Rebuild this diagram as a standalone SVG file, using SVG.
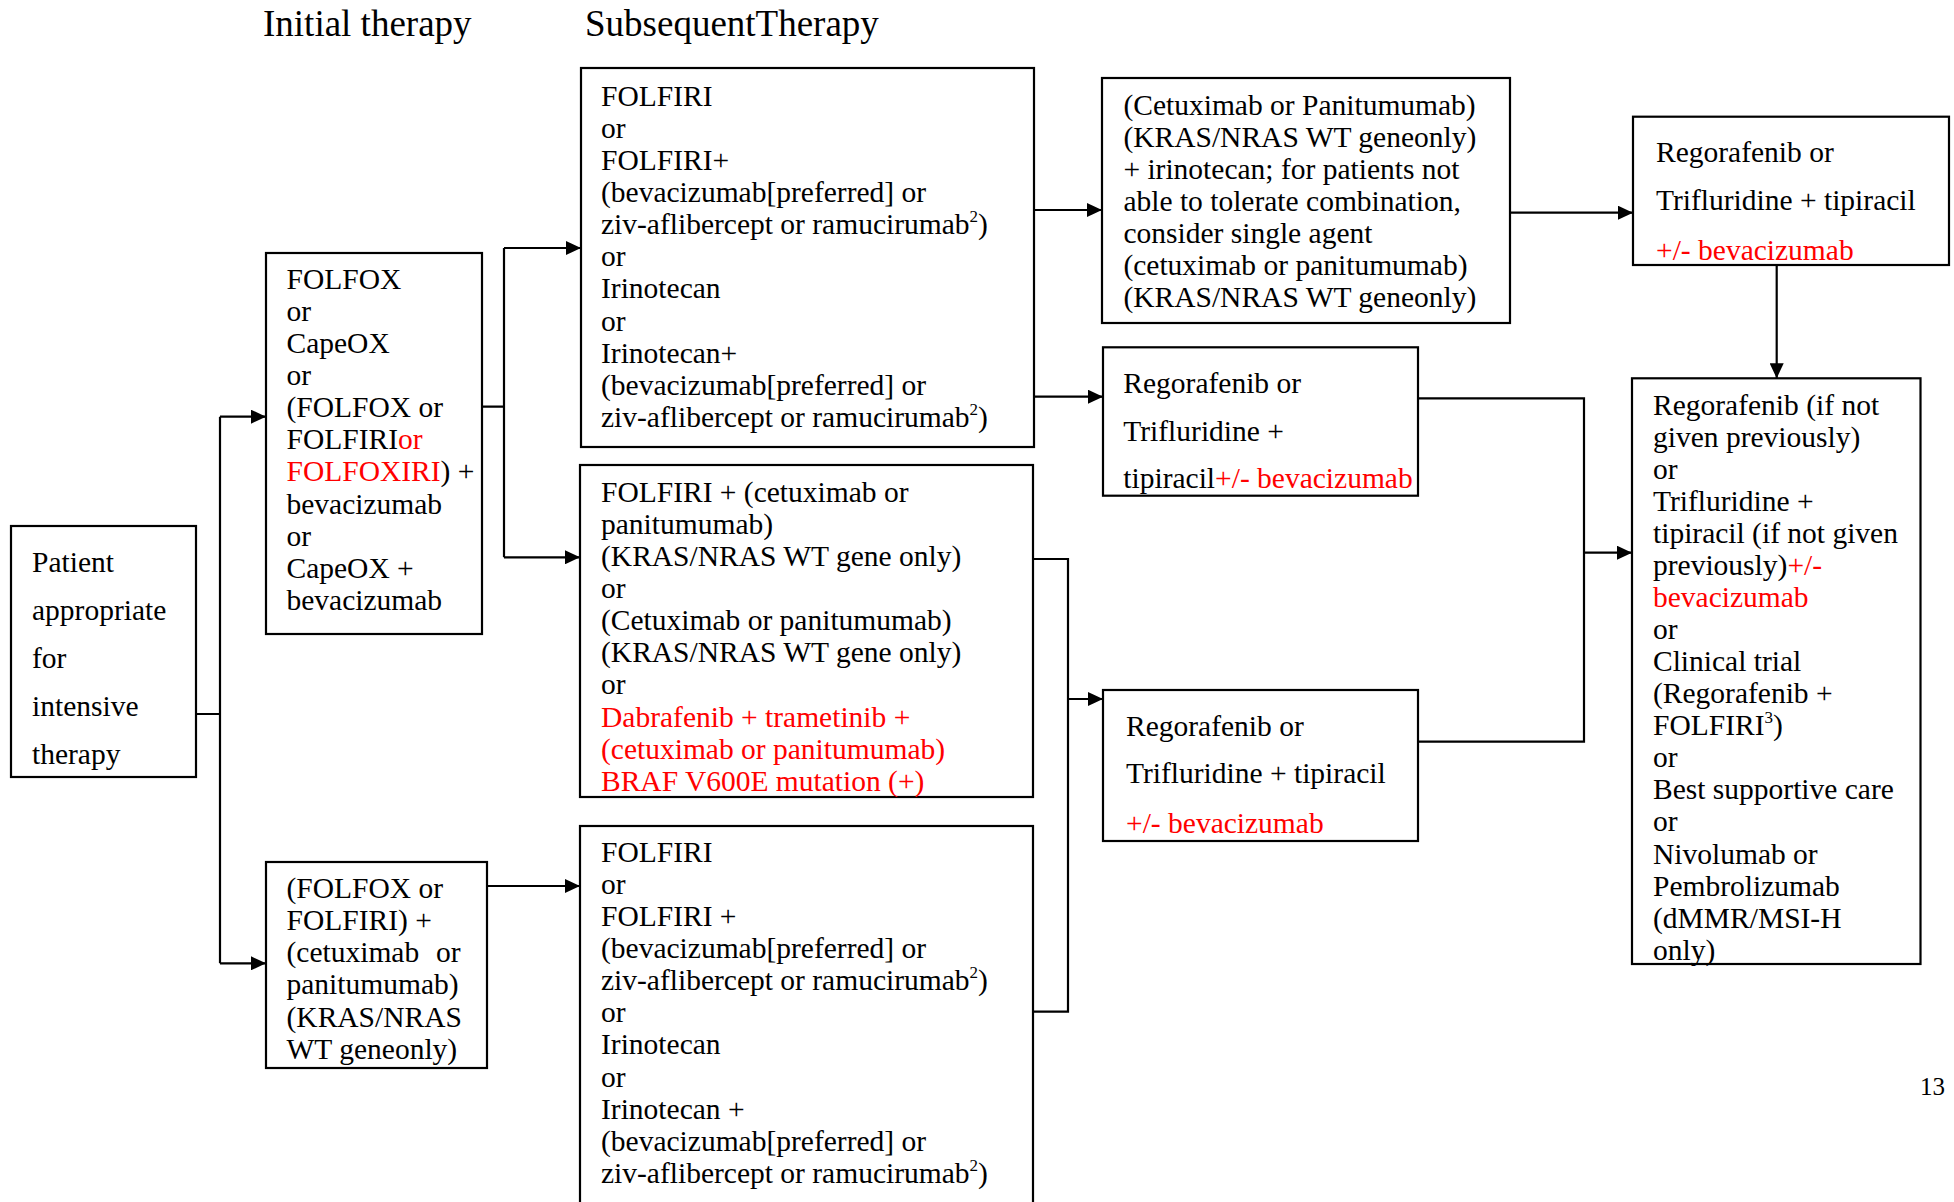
<svg xmlns="http://www.w3.org/2000/svg" width="1954" height="1202" viewBox="0 0 1954 1202">
  <style>
    .box { fill: #fff; stroke: #000; stroke-width: 2.2; }
    .t { font-family: "Liberation Serif", "Times New Roman", serif; font-size: 29.5px; fill: #000; }
    .h { font-family: "Liberation Serif", "Times New Roman", serif; font-size: 37px; fill: #000; }
    .red { fill: #ff0000; }
    .sup { font-size: 17px; }
    .wire { fill: none; stroke: #000; stroke-width: 2.2; }
  </style>
  <defs>
    <marker id="arr" markerUnits="userSpaceOnUse" markerWidth="15" markerHeight="14" refX="15" refY="7" orient="auto">
      <path d="M0,0 L15,7 L0,14 Z" fill="#000"/>
    </marker>
  </defs>

  <rect width="1954" height="1202" fill="#fff"/>

  <!-- column headings -->
  <text class="h" x="263" y="35.5">Initial therapy</text>
  <text class="h" x="585" y="35.5">SubsequentTherapy</text>

  <!-- connectors -->
  <g id="connectors">
    <!-- patient -> initial regimens -->
    <path class="wire" d="M196,714 H220 M220,416.7 V963.3"/>
    <path class="wire" d="M220,416.7 H266" marker-end="url(#arr)"/>
    <path class="wire" d="M220,963.3 H266" marker-end="url(#arr)"/>
    <!-- FOLFOX/CapeOX -> subsequent -->
    <path class="wire" d="M482,406.7 H504 M504,248 V557.3"/>
    <path class="wire" d="M504,248 H581" marker-end="url(#arr)"/>
    <path class="wire" d="M504,557.3 H580" marker-end="url(#arr)"/>
    <!-- anti-EGFR initial -> FOLFIRI block -->
    <path class="wire" d="M487,886 H580" marker-end="url(#arr)"/>
    <!-- FOLFIRI block -> next lines -->
    <path class="wire" d="M1034,210 H1102" marker-end="url(#arr)"/>
    <path class="wire" d="M1034,396.7 H1103" marker-end="url(#arr)"/>
    <!-- cetuximab block -> regorafenib -->
    <path class="wire" d="M1510,212.7 H1633" marker-end="url(#arr)"/>
    <path class="wire" d="M1776.7,265 V378.3" marker-end="url(#arr)"/>
    <!-- merge of lower blocks -->
    <path class="wire" d="M1033,559 H1068 V1011.7 H1033"/>
    <path class="wire" d="M1068,699 H1103" marker-end="url(#arr)"/>
    <!-- merge into final options -->
    <path class="wire" d="M1418,398.3 H1584 V741.7 H1418"/>
    <path class="wire" d="M1584,552.7 H1632" marker-end="url(#arr)"/>
  </g>

  <!-- Patient appropriate for intensive therapy -->
  <g id="patient">
    <rect class="box" x="11" y="526" width="185" height="251"/>
    <text class="t">
      <tspan x="32" y="571.5">Patient</tspan>
      <tspan x="32" y="619.5">appropriate</tspan>
      <tspan x="32" y="667.5">for</tspan>
      <tspan x="32" y="715.5">intensive</tspan>
      <tspan x="32" y="763.5">therapy</tspan>
    </text>
  </g>

  <!-- FOLFOX / CapeOX initial regimen -->
  <g id="initial-folfox">
    <rect class="box" x="266" y="253" width="216" height="381"/>
    <text class="t">
      <tspan x="286.5" y="288.5">FOLFOX</tspan>
      <tspan x="286.5" y="320.65">or</tspan>
      <tspan x="286.5" y="352.8">CapeOX</tspan>
      <tspan x="286.5" y="384.95">or</tspan>
      <tspan x="286.5" y="417.1">(FOLFOX or</tspan>
      <tspan x="286.5" y="449.25">FOLFIRI<tspan class="red">or</tspan></tspan>
      <tspan x="286.5" y="481.4"><tspan class="red">FOLFOXIRI</tspan>) +</tspan>
      <tspan x="286.5" y="513.55">bevacizumab</tspan>
      <tspan x="286.5" y="545.7">or</tspan>
      <tspan x="286.5" y="577.85">CapeOX +</tspan>
      <tspan x="286.5" y="610">bevacizumab</tspan>
    </text>
  </g>

  <!-- anti-EGFR initial regimen -->
  <g id="initial-egfr">
    <rect class="box" x="266" y="862" width="221" height="206"/>
    <text class="t">
      <tspan x="286.5" y="898">(FOLFOX or</tspan>
      <tspan x="286.5" y="930.15">FOLFIRI) +</tspan>
      <tspan x="286.5" y="962.3">(cetuximab</tspan><tspan x="436" y="962.3">or</tspan>
      <tspan x="286.5" y="994.45">panitumumab)</tspan>
      <tspan x="286.5" y="1026.6">(KRAS/NRAS</tspan>
      <tspan x="286.5" y="1058.75">WT geneonly)</tspan>
    </text>
  </g>

  <!-- subsequent: FOLFIRI / irinotecan (after oxaliplatin) -->
  <g id="subsequent-folfiri">
    <rect class="box" x="581" y="68" width="453" height="379"/>
    <text class="t">
      <tspan x="601" y="105.5">FOLFIRI</tspan>
      <tspan x="601" y="137.65">or</tspan>
      <tspan x="601" y="169.8">FOLFIRI+</tspan>
      <tspan x="601" y="201.95">(bevacizumab[preferred] or</tspan>
      <tspan x="601" y="234.1">ziv-aflibercept or ramucirumab<tspan class="sup" dy="-12">2</tspan><tspan dy="12">)</tspan></tspan>
      <tspan x="601" y="266.25">or</tspan>
      <tspan x="601" y="298.4">Irinotecan</tspan>
      <tspan x="601" y="330.55">or</tspan>
      <tspan x="601" y="362.7">Irinotecan+</tspan>
      <tspan x="601" y="394.85">(bevacizumab[preferred] or</tspan>
      <tspan x="601" y="427">ziv-aflibercept or ramucirumab<tspan class="sup" dy="-12">2</tspan><tspan dy="12">)</tspan></tspan>
    </text>
  </g>

  <!-- subsequent: anti-EGFR / BRAF options -->
  <g id="subsequent-egfr">
    <rect class="box" x="580" y="465" width="453" height="332"/>
    <text class="t">
      <tspan x="601" y="501.5">FOLFIRI + (cetuximab or</tspan>
      <tspan x="601" y="533.65">panitumumab)</tspan>
      <tspan x="601" y="565.8">(KRAS/NRAS WT gene only)</tspan>
      <tspan x="601" y="597.95">or</tspan>
      <tspan x="601" y="630.1">(Cetuximab or panitumumab)</tspan>
      <tspan x="601" y="662.25">(KRAS/NRAS WT gene only)</tspan>
      <tspan x="601" y="694.4">or</tspan>
      <tspan x="601" y="726.55" class="red">Dabrafenib + trametinib +</tspan>
      <tspan x="601" y="758.7" class="red">(cetuximab or panitumumab)</tspan>
      <tspan x="601" y="790.85" class="red">BRAF V600E mutation (+)</tspan>
    </text>
  </g>

  <!-- subsequent: FOLFIRI / irinotecan (after anti-EGFR) -->
  <g id="subsequent-folfiri-2">
    <rect class="box" x="580" y="826" width="453" height="400"/>
    <text class="t">
      <tspan x="601" y="861.5">FOLFIRI</tspan>
      <tspan x="601" y="893.65">or</tspan>
      <tspan x="601" y="925.8">FOLFIRI +</tspan>
      <tspan x="601" y="957.95">(bevacizumab[preferred] or</tspan>
      <tspan x="601" y="990.1">ziv-aflibercept or ramucirumab<tspan class="sup" dy="-12">2</tspan><tspan dy="12">)</tspan></tspan>
      <tspan x="601" y="1022.25">or</tspan>
      <tspan x="601" y="1054.4">Irinotecan</tspan>
      <tspan x="601" y="1086.55">or</tspan>
      <tspan x="601" y="1118.7">Irinotecan +</tspan>
      <tspan x="601" y="1150.85">(bevacizumab[preferred] or</tspan>
      <tspan x="601" y="1183">ziv-aflibercept or ramucirumab<tspan class="sup" dy="-12">2</tspan><tspan dy="12">)</tspan></tspan>
    </text>
  </g>

  <!-- cetuximab / panitumumab + irinotecan -->
  <g id="egfr-irinotecan">
    <rect class="box" x="1102" y="78" width="408" height="245"/>
    <text class="t">
      <tspan x="1123.4" y="114.8">(Cetuximab or Panitumumab)</tspan>
      <tspan x="1123.4" y="146.8">(KRAS/NRAS WT geneonly)</tspan>
      <tspan x="1123.4" y="178.8">+ irinotecan; for patients not</tspan>
      <tspan x="1123.4" y="210.8">able to tolerate combination,</tspan>
      <tspan x="1123.4" y="242.8">consider single agent</tspan>
      <tspan x="1123.4" y="274.8">(cetuximab or panitumumab)</tspan>
      <tspan x="1123.4" y="306.8">(KRAS/NRAS WT geneonly)</tspan>
    </text>
  </g>

  <!-- regorafenib / trifluridine (upper) -->
  <g id="rego-upper">
    <rect class="box" x="1103" y="347.3" width="315" height="148.4"/>
    <text class="t">
      <tspan x="1123.3" y="392.7">Regorafenib or</tspan>
      <tspan x="1123.3" y="440.8">Trifluridine +</tspan>
      <tspan x="1123.3" y="488">tipiracil<tspan class="red">+/- bevacizumab</tspan></tspan>
    </text>
  </g>

  <!-- regorafenib / trifluridine (lower) -->
  <g id="rego-lower">
    <rect class="box" x="1103" y="690" width="315" height="151"/>
    <text class="t">
      <tspan x="1126" y="735.5">Regorafenib or</tspan>
      <tspan x="1126" y="782.5">Trifluridine + tipiracil</tspan>
      <tspan x="1126" y="833" class="red">+/- bevacizumab</tspan>
    </text>
  </g>

  <!-- regorafenib / trifluridine (right) -->
  <g id="rego-right">
    <rect class="box" x="1633" y="116.7" width="316" height="148.3"/>
    <text class="t">
      <tspan x="1656" y="161.5">Regorafenib or</tspan>
      <tspan x="1656" y="209.5">Trifluridine + tipiracil</tspan>
      <tspan x="1656" y="260" class="red">+/- bevacizumab</tspan>
    </text>
  </g>

  <!-- later-line options -->
  <g id="later-line">
    <rect class="box" x="1632" y="378.3" width="288.5" height="585.7"/>
    <text class="t">
      <tspan x="1653" y="414.8">Regorafenib (if not</tspan>
      <tspan x="1653" y="446.85">given previously)</tspan>
      <tspan x="1653" y="478.9">or</tspan>
      <tspan x="1653" y="510.95">Trifluridine +</tspan>
      <tspan x="1653" y="543">tipiracil (if not given</tspan>
      <tspan x="1653" y="575.05">previously)<tspan class="red">+/-</tspan></tspan>
      <tspan x="1653" y="607.1" class="red">bevacizumab</tspan>
      <tspan x="1653" y="639.15">or</tspan>
      <tspan x="1653" y="671.2">Clinical trial</tspan>
      <tspan x="1653" y="703.25">(Regorafenib +</tspan>
      <tspan x="1653" y="735.3">FOLFIRI<tspan class="sup" dy="-12">3</tspan><tspan dy="12">)</tspan></tspan>
      <tspan x="1653" y="767.35">or</tspan>
      <tspan x="1653" y="799.4">Best supportive care</tspan>
      <tspan x="1653" y="831.45">or</tspan>
      <tspan x="1653" y="863.5">Nivolumab or</tspan>
      <tspan x="1653" y="895.55">Pembrolizumab</tspan>
      <tspan x="1653" y="927.6">(dMMR/MSI-H</tspan>
      <tspan x="1653" y="959.65">only)</tspan>
    </text>
  </g>

  <!-- page number -->
  <text class="t" x="1920" y="1095" style="font-size:25px">13</text>
</svg>
